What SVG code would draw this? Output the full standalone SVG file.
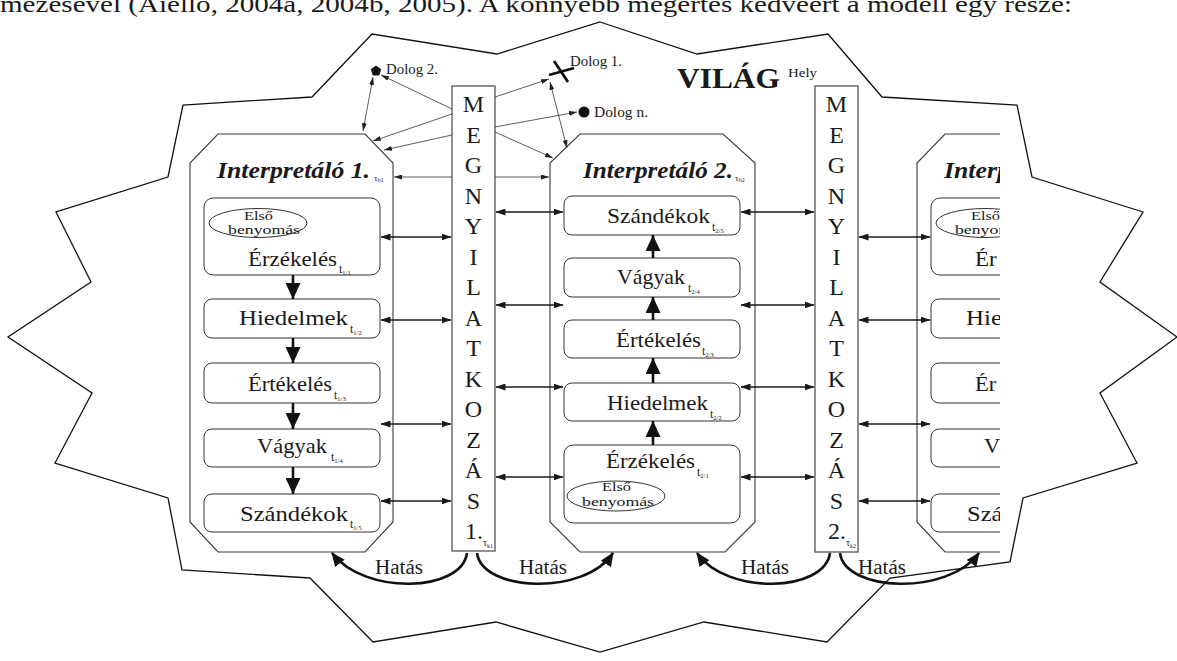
<svg xmlns="http://www.w3.org/2000/svg" width="1177" height="661" viewBox="0 0 1177 661">
<style>
text{font-family:'Liberation Serif','Times New Roman',serif;fill:#1a1a1a}
.oct{fill:none;stroke:#3a3a3a;stroke-width:1.1}
.box{fill:none;stroke:#333;stroke-width:1}
.col{fill:none;stroke:#555;stroke-width:1.3}
.lbl{font-size:21px}
.tt{font-size:12px}
.ss{font-size:6.5px}
.ttl{font-size:24px;font-weight:bold;font-style:italic}
.eb{font-size:12px}
.let{font-size:24px;text-anchor:middle}
.dol{font-size:14px}
.hat{font-size:20px}
.dbl{stroke:#1a1a1a;stroke-width:1.6;marker-start:url(#hd);marker-end:url(#hd)}
.thin{stroke:#333;stroke-width:0.8;marker-end:url(#ht)}
.thin2{stroke:#333;stroke-width:0.8;marker-start:url(#ht);marker-end:url(#ht)}
.blk{stroke:#111;stroke-width:2.6;marker-end:url(#hb)}
.arc{fill:none;stroke:#111;stroke-width:2.6;marker-end:url(#hh)}
</style>
<defs>
<marker id="hd" viewBox="0 0 10 7" refX="9.5" refY="3.5" markerWidth="10" markerHeight="7" markerUnits="userSpaceOnUse" orient="auto-start-reverse"><path d="M0,0 L10,3.5 L0,7 z" fill="#1a1a1a"/></marker>
<marker id="ht" viewBox="0 0 8 5" refX="8" refY="2.5" markerWidth="8" markerHeight="5" markerUnits="userSpaceOnUse" orient="auto-start-reverse"><path d="M0,0 L8,2.5 L0,5 z" fill="#222"/></marker>
<marker id="hb" viewBox="0 0 16 15" refX="16" refY="7.5" markerWidth="16" markerHeight="15" markerUnits="userSpaceOnUse" orient="auto"><path d="M0,0 L16,7.5 L0,15 z" fill="#111"/></marker>
<marker id="hh" viewBox="0 0 14 12" refX="13" refY="6" markerWidth="14" markerHeight="12" markerUnits="userSpaceOnUse" orient="auto"><path d="M0,0 L14,6 L0,12 z" fill="#111"/></marker>
<clipPath id="cut"><rect x="0" y="0" width="1000" height="661"/></clipPath>
</defs>
<rect width="1177" height="661" fill="#fff"/>

<text x="0" y="12" font-size="24" textLength="1072" lengthAdjust="spacingAndGlyphs">mezésével (Aiello, 2004a, 2004b, 2005). A könnyebb megértés kedvéért a modell egy része:</text>

<g id="world">
<polygon points="600,22 697,54 828,34 882,97 1017,105 1032,177 1143,212 1100,282 1177,337 1100,393 1137,463 1023,498 1010,562 890,578 827,642 704,622 600,652 496,622 373,642 310,578 182,570 168,498 55,463 92,393 8,337 91,282 56,212 168,177 183,105 312,97 372,34 497,54" fill="none" stroke="#111" stroke-width="1.3"/>
<text x="677" y="88" font-size="30" font-weight="bold" textLength="103" lengthAdjust="spacingAndGlyphs">VILÁG</text>
<text x="788" y="77" font-size="13" textLength="29" lengthAdjust="spacingAndGlyphs">Hely</text>
</g>

<g id="dolog2">
<polygon points="376,65.5 381.2,69.3 379.2,75.4 372.8,75.4 370.8,69.3" fill="#111"/>
<text class="dol" x="386" y="74" textLength="52" lengthAdjust="spacingAndGlyphs">Dolog 2.</text>
</g>
<g id="dolog1">
<line x1="554" y1="61" x2="568" y2="82" stroke="#111" stroke-width="2.8"/>
<line x1="549" y1="75" x2="574" y2="68" stroke="#111" stroke-width="2.8"/>
<text class="dol" x="570" y="66" textLength="52" lengthAdjust="spacingAndGlyphs">Dolog 1.</text>
</g>
<g id="dologn">
<circle cx="584" cy="112" r="5.5" fill="#111"/>
<text class="dol" x="594" y="117" textLength="54" lengthAdjust="spacingAndGlyphs">Dolog n.</text>
</g>

<g id="interp1">
<polygon class="oct" points="218,134 365,134 393,163 393,522 365,552 218,552 190,522 190,163"/>
<text class="ttl" x="217" y="178" textLength="153" lengthAdjust="spacingAndGlyphs">Interpretáló 1.</text>
<text x="374" y="181" font-size="9">τ<tspan font-size="6" dy="1">b1</tspan></text>
<rect class="box" x="204" y="198" width="176" height="77" rx="9"/>
<ellipse class="box" cx="258" cy="223" rx="49" ry="14.5"/>
<text class="eb" x="244" y="220" textLength="29" lengthAdjust="spacingAndGlyphs">Első</text>
<text class="eb" x="228" y="234" textLength="72" lengthAdjust="spacingAndGlyphs">benyomás</text>
<text class="lbl" x="248" y="266" textLength="89" lengthAdjust="spacingAndGlyphs">Érzékelés</text>
<text x="339" y="273"><tspan class="tt">t</tspan><tspan class="ss" dy="1.5">1/1</tspan></text>
<rect class="box" x="204" y="299" width="176" height="39" rx="8"/>
<text class="lbl" x="239" y="325" textLength="109" lengthAdjust="spacingAndGlyphs">Hiedelmek</text>
<text x="350" y="333"><tspan class="tt">t</tspan><tspan class="ss" dy="1.5">1/2</tspan></text>
<rect class="box" x="204" y="363" width="176" height="40" rx="8"/>
<text class="lbl" x="248" y="391" textLength="84" lengthAdjust="spacingAndGlyphs">Értékelés</text>
<text x="334" y="399"><tspan class="tt">t</tspan><tspan class="ss" dy="1.5">1/3</tspan></text>
<rect class="box" x="204" y="429" width="176" height="38" rx="8"/>
<text class="lbl" x="257" y="453" textLength="70" lengthAdjust="spacingAndGlyphs">Vágyak</text>
<text x="331" y="461"><tspan class="tt">t</tspan><tspan class="ss" dy="1.5">1/4</tspan></text>
<rect class="box" x="204" y="494" width="176" height="38" rx="8"/>
<text class="lbl" x="240" y="521" textLength="108" lengthAdjust="spacingAndGlyphs">Szándékok</text>
<text x="350" y="528"><tspan class="tt">t</tspan><tspan class="ss" dy="1.5">1/5</tspan></text>
<line class="blk" x1="293" y1="275" x2="293" y2="299"/>
<line class="blk" x1="293" y1="338" x2="293" y2="363"/>
<line class="blk" x1="293" y1="403" x2="293" y2="429"/>
<line class="blk" x1="293" y1="467" x2="293" y2="494"/>
</g>

<g id="megny1">
<rect class="col" x="452" y="86" width="43" height="465"/>
<text class="let" x="473.5" y="112">M</text>
<text class="let" x="473.5" y="142.5">E</text>
<text class="let" x="473.5" y="173">G</text>
<text class="let" x="473.5" y="203.5">N</text>
<text class="let" x="473.5" y="234">Y</text>
<text class="let" x="473.5" y="264.5">I</text>
<text class="let" x="473.5" y="295">L</text>
<text class="let" x="473.5" y="325.5">A</text>
<text class="let" x="473.5" y="356">T</text>
<text class="let" x="473.5" y="386.5">K</text>
<text class="let" x="473.5" y="417">O</text>
<text class="let" x="473.5" y="447.5">Z</text>
<text class="let" x="473.5" y="478">Á</text>
<text class="let" x="473.5" y="508.5">S</text>
<text x="465" y="539" font-size="24">1.<tspan font-size="10" dy="7">τ</tspan><tspan font-size="6" dy="2">k1</tspan></text>
</g>

<g id="interp2">
<polygon class="oct" points="580,134 723,134 755,163 755,522 725,552 580,552 550,522 550,163"/>
<text class="ttl" x="583" y="178" textLength="150" lengthAdjust="spacingAndGlyphs">Interpretáló 2.</text>
<text x="735" y="181" font-size="9">τ<tspan font-size="6" dy="1">b2</tspan></text>
<rect class="box" x="564" y="196" width="176" height="39" rx="8"/>
<text class="lbl" x="607" y="223" textLength="103" lengthAdjust="spacingAndGlyphs">Szándékok</text>
<text x="712" y="231"><tspan class="tt">t</tspan><tspan class="ss" dy="1.5">2/5</tspan></text>
<rect class="box" x="564" y="258" width="176" height="39" rx="8"/>
<text class="lbl" x="617" y="284" textLength="68" lengthAdjust="spacingAndGlyphs">Vágyak</text>
<text x="688" y="292"><tspan class="tt">t</tspan><tspan class="ss" dy="1.5">2/4</tspan></text>
<rect class="box" x="564" y="320" width="176" height="38" rx="8"/>
<text class="lbl" x="616" y="347" textLength="85" lengthAdjust="spacingAndGlyphs">Értékelés</text>
<text x="702" y="355"><tspan class="tt">t</tspan><tspan class="ss" dy="1.5">2/3</tspan></text>
<rect class="box" x="564" y="383" width="176" height="38" rx="8"/>
<text class="lbl" x="607" y="410" textLength="101" lengthAdjust="spacingAndGlyphs">Hiedelmek</text>
<text x="710" y="418"><tspan class="tt">t</tspan><tspan class="ss" dy="1.5">2/2</tspan></text>
<rect class="box" x="564" y="445" width="176" height="78" rx="9"/>
<text class="lbl" x="606" y="468" textLength="89" lengthAdjust="spacingAndGlyphs">Érzékelés</text>
<text x="697" y="476"><tspan class="tt">t</tspan><tspan class="ss" dy="1.5">2/1</tspan></text>
<ellipse class="box" cx="616" cy="496" rx="49" ry="15"/>
<text class="eb" x="602" y="491" textLength="29" lengthAdjust="spacingAndGlyphs">Első</text>
<text class="eb" x="582" y="506" textLength="72" lengthAdjust="spacingAndGlyphs">benyomás</text>
<line class="blk" x1="653" y1="445" x2="653" y2="421"/>
<line class="blk" x1="653" y1="383" x2="653" y2="358"/>
<line class="blk" x1="653" y1="320" x2="653" y2="297"/>
<line class="blk" x1="653" y1="258" x2="653" y2="235"/>
</g>

<g id="megny2">
<rect class="col" x="815" y="86" width="43" height="466"/>
<text class="let" x="836.5" y="112">M</text>
<text class="let" x="836.5" y="142.5">E</text>
<text class="let" x="836.5" y="173">G</text>
<text class="let" x="836.5" y="203.5">N</text>
<text class="let" x="836.5" y="234">Y</text>
<text class="let" x="836.5" y="264.5">I</text>
<text class="let" x="836.5" y="295">L</text>
<text class="let" x="836.5" y="325.5">A</text>
<text class="let" x="836.5" y="356">T</text>
<text class="let" x="836.5" y="386.5">K</text>
<text class="let" x="836.5" y="417">O</text>
<text class="let" x="836.5" y="447.5">Z</text>
<text class="let" x="836.5" y="478">Á</text>
<text class="let" x="836.5" y="508.5">S</text>
<text x="828" y="539" font-size="24">2.<tspan font-size="10" dy="7">τ</tspan><tspan font-size="6" dy="2">k2</tspan></text>
</g>

<g id="interp3" clip-path="url(#cut)">
<polygon class="oct" points="945,134 1092,134 1120,163 1120,522 1092,552 945,552 917,522 917,163"/>
<text class="ttl" x="944" y="178" textLength="65.8" lengthAdjust="spacingAndGlyphs">Interp</text>
<rect class="box" x="931" y="198" width="176" height="77" rx="9"/>
<ellipse class="box" cx="985" cy="223" rx="49" ry="14.5"/>
<text class="eb" x="971" y="220" textLength="29" lengthAdjust="spacingAndGlyphs">Első</text>
<text class="eb" x="955" y="234" textLength="57" lengthAdjust="spacingAndGlyphs">benyom</text>
<text class="lbl" x="975" y="266" textLength="21.6" lengthAdjust="spacingAndGlyphs">Ér</text>
<rect class="box" x="931" y="299" width="176" height="39" rx="8"/>
<text class="lbl" x="966" y="325" textLength="36" lengthAdjust="spacingAndGlyphs">Hie</text>
<rect class="box" x="931" y="363" width="176" height="40" rx="8"/>
<text class="lbl" x="975" y="391" textLength="21.3" lengthAdjust="spacingAndGlyphs">Ér</text>
<rect class="box" x="931" y="429" width="176" height="38" rx="8"/>
<text class="lbl" x="984" y="453" textLength="16.3" lengthAdjust="spacingAndGlyphs">V</text>
<rect class="box" x="931" y="494" width="176" height="38" rx="8"/>
<text class="lbl" x="967" y="521" textLength="35.5" lengthAdjust="spacingAndGlyphs">Szá</text>
</g>

<g id="connectors">
<line class="dbl" x1="381" y1="237" x2="451" y2="237"/>
<line class="dbl" x1="381" y1="320" x2="451" y2="320"/>
<line class="dbl" x1="381" y1="424" x2="451" y2="424"/>
<line class="dbl" x1="381" y1="501" x2="451" y2="501"/>
<line class="dbl" x1="496" y1="212" x2="563" y2="212"/>
<line class="dbl" x1="496" y1="305" x2="563" y2="305"/>
<line class="dbl" x1="496" y1="387" x2="563" y2="387"/>
<line class="dbl" x1="496" y1="477" x2="563" y2="477"/>
<line class="dbl" x1="741" y1="212" x2="814" y2="212"/>
<line class="dbl" x1="741" y1="305" x2="814" y2="305"/>
<line class="dbl" x1="741" y1="387" x2="814" y2="387"/>
<line class="dbl" x1="741" y1="477" x2="814" y2="477"/>
<line class="dbl" x1="859" y1="237" x2="930" y2="237"/>
<line class="dbl" x1="859" y1="320" x2="930" y2="320"/>
<line class="dbl" x1="859" y1="424" x2="930" y2="424"/>
<line class="dbl" x1="859" y1="501" x2="930" y2="501"/>
<line class="thin" x1="452" y1="109" x2="381" y2="75"/>
<line class="thin" x1="452" y1="114" x2="373" y2="141"/>
<line class="thin" x1="452" y1="135" x2="384" y2="150"/>
<line class="thin" x1="452" y1="177" x2="394" y2="177"/>
<line class="thin" x1="495" y1="97" x2="549" y2="79"/>
<line class="thin" x1="495" y1="127" x2="577" y2="112"/>
<line class="thin" x1="495" y1="132" x2="553" y2="158"/>
<line class="thin" x1="495" y1="177" x2="549" y2="177"/>
<line class="thin2" x1="373" y1="77" x2="363" y2="131"/>
<line class="thin2" x1="550" y1="82" x2="567" y2="148"/>
<path class="arc" d="M467,553 C462,592 365,596 332,553"/>
<path class="arc" d="M477,553 C482,592 585,596 613,553"/>
<path class="arc" d="M830,553 C825,592 727,596 697,553"/>
<path class="arc" d="M840,553 C845,592 948,596 979,553"/>
<text class="hat" x="375" y="574" textLength="48" lengthAdjust="spacingAndGlyphs">Hatás</text>
<text class="hat" x="519" y="574" textLength="48" lengthAdjust="spacingAndGlyphs">Hatás</text>
<text class="hat" x="741" y="574" textLength="48" lengthAdjust="spacingAndGlyphs">Hatás</text>
<text class="hat" x="858" y="574" textLength="48" lengthAdjust="spacingAndGlyphs">Hatás</text>
</g>
</svg>
